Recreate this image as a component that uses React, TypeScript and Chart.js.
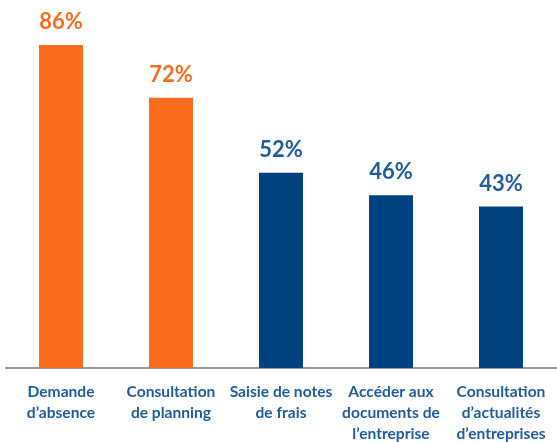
import React, { useEffect, useRef } from "react";
import { Chart, registerables } from "chart.js";

Chart.register(...registerables);

const categories: string[][] = [
  ["Demande", "d\u2019absence"],
  ["Consultation", "de planning"],
  ["Saisie de notes", "de frais"],
  ["Acc\u00e9der aux", "documents de", "l\u2019entreprise"],
  ["Consultation", "d\u2019actualit\u00e9s", "d\u2019entreprises"],
];
const values: number[] = [86, 72, 52, 46, 43];
const barColors: string[] = ["#F86D1E", "#F86D1E", "#00427F", "#00427F", "#00427F"];
const labelColors: string[] = ["#F86D1E", "#F86D1E", "#1F5C99", "#1F5C99", "#1F5C99"];

const valueLabels = {
  id: "valueLabels",
  afterDatasetsDraw(chart: any) {
    const ctx = chart.ctx;
    const meta = chart.getDatasetMeta(0);
    ctx.save();
    ctx.font = "bold 22px Lato";
    ctx.textAlign = "center";
    ctx.textBaseline = "alphabetic";
    meta.data.forEach((bar: any, i: number) => {
      ctx.fillStyle = labelColors[i];
      ctx.fillText(values[i] + "%", bar.x, bar.y - 16);
    });
    ctx.restore();
  },
};

export default function App() {
  const ref = useRef<HTMLCanvasElement>(null);
  useEffect(() => {
    const chart = new Chart(ref.current!, {
      type: "bar",
      data: {
        labels: categories,
        datasets: [
          {
            data: values,
            backgroundColor: barColors,
            categoryPercentage: 1,
            barPercentage: 0.4,
          },
        ],
      },
      options: {
        animation: false,
        responsive: false,
        maintainAspectRatio: false,
        layout: { padding: { left: 6, right: 1, top: 0, bottom: 0 } },
        plugins: { legend: { display: false }, tooltip: { enabled: false } },
        scales: {
          x: {
            grid: { display: false, drawTicks: false },
            border: { display: true, color: "#9A9A9A", width: 2 },
            ticks: {
              padding: 14,
              color: "#1F5C99",
              font: { family: "Lato", size: 15.6, weight: "bold", lineHeight: 1.34 },
              maxRotation: 0,
              autoSkip: false,
            },
            afterFit(scale: any) {
              scale.height = 74;
              scale.paddingLeft = 0;
              scale.paddingRight = 0;
            },
          },
          y: { display: false, min: 0, max: 98 },
        },
      },
      plugins: [valueLabels],
    });
    return () => chart.destroy();
  }, []);
  return (
    <div style={{ position: "fixed", left: 0, top: 0, width: 557, height: 442, background: "#fff" }}>
      <canvas ref={ref} width={557} height={442} style={{ width: 557, height: 442 }} />
    </div>
  );
}
